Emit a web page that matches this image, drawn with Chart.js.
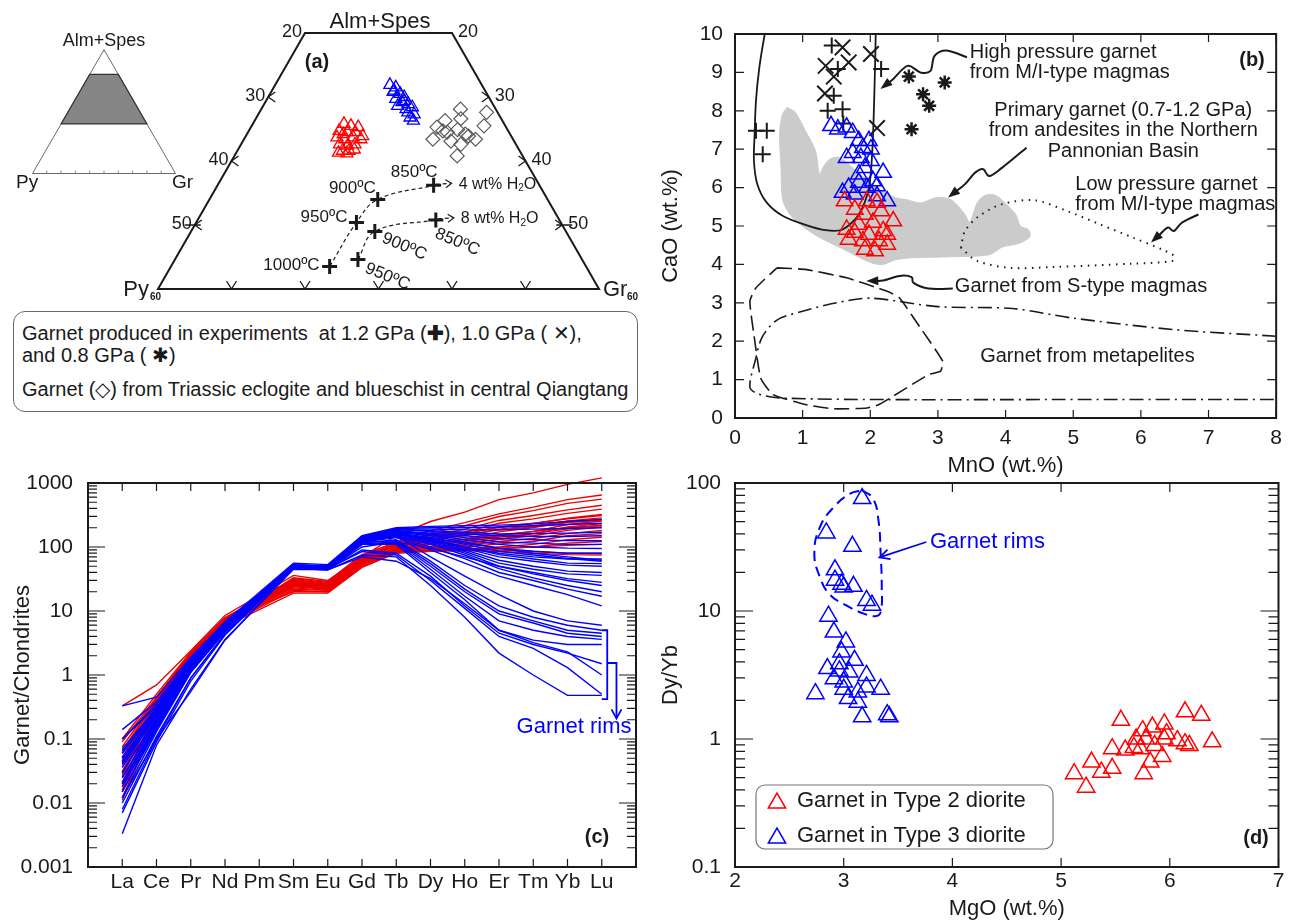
<!DOCTYPE html>
<html>
<head>
<meta charset="utf-8">
<script src="https://cdn.jsdelivr.net/npm/chart.js@4.4.1/dist/chart.umd.min.js"></script>
<style>
html,body{margin:0;padding:0;background:#fff;}
body{position:relative;width:1290px;height:922px;overflow:hidden;font-family:"Liberation Sans",Arial,sans-serif;color:#1a1a1a;}
canvas{position:absolute;}
#legA{position:absolute;left:13px;top:311px;width:625px;height:101px;border:1.4px solid #6a6a6a;border-radius:12px;box-sizing:border-box;}
#legA div{position:absolute;left:8px;font-size:20px;line-height:22px;white-space:nowrap;}
</style>
</head>
<body>
<canvas id="cA" width="640" height="300" style="left:0;top:0"></canvas>
<canvas id="cB" width="650" height="480" style="left:640px;top:0"></canvas>
<canvas id="cC" width="650" height="482" style="left:0;top:440px"></canvas>
<canvas id="cD" width="650" height="482" style="left:640px;top:440px"></canvas>
<div id="legA">
 <div style="top:10px">Garnet produced in experiments&nbsp; at 1.2 GPa (<b>✚</b>), 1.0 GPa ( ✕),</div>
 <div style="top:32px">and 0.8 GPa ( ✱)</div>
 <div style="top:66px">Garnet (◇) from Triassic eclogite and blueschist in central Qiangtang</div>
</div>
<script>
// ================= DATA =================
// Panel (a): ternary compositions [Alm+Spes, Gr] (Py = 100 - Alm - Gr)
const ternType2 = [[65.8,12.4],[65.5,13.5],[65.3,14.6],[64.7,12.3],[64.5,13.5],[64.5,14.6],[63.9,15.9],[63.7,12.5],[63.4,13.7],[63.7,14.7],[63.4,15.9],[62.6,13.4],[62.4,14.6],[62.6,15.5],[61.6,14.3],[61.6,15.2],[61.3,13.9],[61.2,15.1],[61.8,15.8],[64.2,13.1]];
const ternType3 = [[71.9,15.6],[71.5,16.6],[70.8,16.6],[70.5,17.7],[70.0,18.5],[69.7,17.5],[69.2,18.6],[68.9,19.6],[68.6,18.3],[68.1,19.7],[68.4,20.4],[67.3,21.2],[66.8,20.9],[66.3,21.6],[71.0,16.6],[69.4,18.8],[67.6,20.2]];
const ternEclogite = [[68.1,27.1],[66.6,27.9],[67.6,30.9],[66.3,25.9],[65.3,25.3],[64.9,28.3],[63.4,25.7],[64.5,27.1],[64.2,29.7],[65.5,31.6],[63.1,28.3],[62.6,29.9],[63.4,31.5],[60.8,30.3],[63.9,30.3],[64.7,26.4]];
const exp4H2O = [[43.5,21.6],[50.4,21.8],[54.0,22.9],[56.2,29.4]];
const exp8H2O = [[44.6,24.9],[49.0,25.0],[50.8,32.4]];
const exp4Temps = ['1000ºC','950ºC','900ºC','850ºC'];
const exp8Temps = ['950ºC','900ºC','850ºC'];
const ternEdgeLabels = [20,30,40,50];

// Panel (b): [MnO, CaO] wt.%
const bType2 = [[1.62,5.65],[1.77,5.43],[1.95,5.65],[2.16,5.39],[2.10,5.61],[2.34,5.13],[1.65,4.91],[1.83,5.04],[1.92,5.30],[2.04,5.09],[2.19,4.87],[1.77,4.83],[1.98,4.78],[2.25,4.78],[1.89,4.61],[2.13,4.61],[1.68,4.65],[1.92,4.39],[2.07,4.35],[2.25,4.52]];
const bType3 = [[1.42,7.61],[1.52,7.52],[1.65,7.57],[1.74,7.43],[1.83,7.22],[1.98,7.22],[1.74,6.91],[1.89,7.04],[2.01,7.00],[1.86,6.78],[1.65,6.78],[2.01,6.70],[1.92,6.52],[1.83,6.35],[2.19,6.39],[2.04,6.17],[1.83,6.13],[1.68,6.00],[1.95,6.00],[2.10,6.04],[1.59,5.87],[1.77,5.83],[2.25,5.65],[2.10,5.78]];
const bExp12 = [[1.43,9.70],[1.52,9.09],[1.46,8.39],[1.37,8.00],[1.59,8.04],[1.60,7.67],[0.31,7.48],[0.47,7.48],[0.41,6.87],[2.16,9.09]];
const bExp10 = [[1.59,9.65],[1.34,9.17],[1.46,8.89],[1.68,9.26],[2.01,9.48],[1.33,8.45],[2.10,7.55]];
const bExp08 = [[2.57,8.89],[3.10,8.74],[2.78,8.43],[2.87,8.13],[2.61,7.52]];
const fieldHighP = [[0.48,10.3],[0.44,10.0],[0.36,9.13],[0.31,8.26],[0.29,7.39],[0.28,6.70],[0.33,6.09],[0.47,5.61],[0.71,5.26],[1.04,5.03],[1.34,4.89],[1.59,4.91],[1.83,5.30],[1.98,6.00],[2.03,6.96],[2.05,7.83],[2.07,9.13],[2.08,10.0],[2.08,10.3]];
const fieldPannonian = [[0.77,8.09],[0.89,7.96],[1.04,7.48],[1.19,6.96],[1.25,6.35],[1.31,6.55],[1.40,6.74],[1.55,6.78],[1.75,6.50],[2.10,6.00],[2.37,5.74],[2.55,5.68],[2.74,5.60],[2.98,5.74],[3.20,5.68],[3.40,5.30],[3.47,5.10],[3.58,5.60],[3.70,5.80],[3.85,5.80],[3.98,5.62],[4.15,5.30],[4.22,5.00],[4.34,4.90],[4.36,4.72],[4.20,4.55],[3.95,4.45],[3.76,4.25],[3.20,4.20],[2.60,4.17],[2.37,4.12],[2.19,4.00],[2.00,4.05],[1.60,4.40],[1.20,4.75],[0.86,5.20],[0.71,5.65],[0.68,6.50],[0.66,7.40],[0.70,7.90],[0.77,8.09]];
const fieldLowP = [[3.34,4.43],[3.40,4.87],[3.60,5.25],[3.95,5.57],[4.43,5.67],[4.91,5.39],[5.40,5.04],[5.88,4.70],[6.31,4.39],[6.49,4.22],[6.46,4.09],[5.88,4.02],[4.67,3.93],[4.07,3.91],[3.58,4.09],[3.34,4.43]];
const fieldSType = [[0.62,3.91],[1.04,3.87],[1.65,3.65],[2.25,3.30],[2.43,3.13],[2.74,2.35],[3.07,1.48],[3.04,1.22],[2.86,1.13],[2.13,0.35],[1.95,0.26],[1.46,0.24],[1.04,0.35],[0.56,0.61],[0.38,1.04],[0.28,2.17],[0.22,3.04],[0.31,3.39],[0.62,3.91]];
const fieldMetapelite = [[8.0,2.13],[6.5,2.30],[5.0,2.60],[4.1,2.85],[3.0,2.90],[2.0,3.12],[1.5,3.00],[1.0,2.78],[0.62,2.55],[0.40,2.10],[0.30,1.50],[0.22,0.80],[0.35,0.62],[0.70,0.52],[2.2,0.48],[4.7,0.48],[8.0,0.48]];
const mnoTicks = [0,1,2,3,4,5,6,7,8];
const caoTicks = [0,1,2,3,4,5,6,7,8,9,10];

// Panel (c): chondrite-normalised REE
const ree = ['La','Ce','Pr','Nd','Pm','Sm','Eu','Gd','Tb','Dy','Ho','Er','Tm','Yb','Lu'];
const spiderType2 = [
 [0.33,0.7,2.4,8.5,null,36,30,70,150,250,350,550,700,950,1200],
 [0.09,0.45,2.2,7.8,null,32,28,72,120,180,240,330,420,550,650],
 [0.05,0.38,2.0,7.2,null,30,26,68,115,165,215,300,370,480,560],
 [0.03,0.32,1.9,7.0,null,28,25,64,108,150,190,260,310,380,450],
 [0.02,0.28,1.8,6.8,null,27,24,62,104,140,170,235,275,335,390],
 [0.012,0.22,1.6,6.2,null,25,22,58,98,132,160,205,235,275,310],
 [0.065,0.42,2.1,7.5,null,31,27,68,112,142,155,185,205,255,285],
 [0.04,0.35,2.0,7.2,null,29,25,66,102,122,132,155,175,225,255],
 [0.016,0.3,1.8,6.6,null,26,23,60,96,116,122,142,162,205,232],
 [0.1,0.5,2.3,7.8,null,30,27,70,106,112,116,132,150,182,205],
 [0.026,0.31,1.9,7.0,null,27,24,62,96,102,106,122,136,162,182],
 [0.036,0.34,2.0,7.0,null,26,23,60,92,96,100,112,122,150,162],
 [0.052,0.38,2.1,7.3,null,25,22,58,88,91,93,100,110,130,142],
 [0.021,0.28,1.7,6.3,null,22,21,55,85,86,88,95,100,115,122],
 [0.031,0.3,1.8,6.5,null,24,22,57,90,96,95,90,85,80,80],
 [0.046,0.36,1.9,6.8,null,23,21,54,86,90,88,85,80,76,75],
 [0.075,0.44,2.2,7.6,null,20,20,50,80,86,90,95,100,106,110],
 [0.018,0.26,1.6,6.0,null,21,20,52,82,100,112,132,162,192,222],
 [0.028,0.32,1.9,6.9,null,33,29,76,118,152,172,202,232,282,322],
 [0.011,0.2,1.5,5.8,null,19,19,48,80,112,132,172,202,242,262],
 [0.06,0.4,2.1,7.4,null,28,25,65,105,130,150,190,215,250,270],
 [0.015,0.24,1.7,6.4,null,24,22,60,95,110,125,150,175,200,215]
];
const spiderType3 = [
 [0.33,0.45,1.9,6.8,null,56,53,150,200,210,215,220,230,250,270],
 [0.14,0.38,1.8,6.5,null,53,50,145,195,200,200,205,215,225,235],
 [0.1,0.32,1.7,6.3,null,51,48,140,190,190,185,185,190,195,200],
 [0.065,0.28,1.6,6.0,null,50,48,140,185,180,170,160,162,165,170],
 [0.042,0.25,1.5,5.8,null,52,50,145,190,175,160,150,146,146,150],
 [0.03,0.22,1.4,5.6,null,50,48,135,180,165,150,135,130,126,125],
 [0.021,0.18,1.3,5.3,null,48,46,130,175,160,140,120,115,110,110],
 [0.052,0.26,1.6,6.0,null,52,50,140,180,155,130,110,100,96,95],
 [0.015,0.15,1.2,5.0,null,50,48,135,170,150,120,96,86,80,80],
 [0.07,0.3,1.7,6.2,null,50,48,130,165,140,110,86,75,66,60],
 [0.025,0.2,1.35,5.4,null,48,46,128,160,135,100,76,65,56,55],
 [0.036,0.24,1.5,5.7,null,50,48,130,165,130,95,70,60,52,50],
 [0.012,0.13,1.1,4.8,null,49,47,125,155,125,90,62,50,42,40],
 [0.046,0.27,1.6,6.0,null,51,49,130,160,120,85,56,45,38,36],
 [0.008,0.1,0.9,4.4,null,47,45,120,150,115,80,50,38,30,25],
 [0.02,0.17,1.25,5.1,null,48,46,122,150,110,75,46,33,25,20],
 [0.06,0.3,1.7,6.2,null,50,48,125,145,100,66,40,30,22,17],
 [0.03,0.21,1.4,5.5,null,49,47,120,140,90,56,35,25,18,12],
 [0.007,0.09,0.8,4.2,null,47,45,115,130,60,25,12,8,6,5],
 [0.04,0.25,1.5,5.8,null,50,48,118,125,55,22,10,7,5,4.5],
 [0.015,0.14,1.15,4.9,null,48,46,112,120,50,20,9,6.5,4.5,4],
 [0.0033,0.08,0.6,3.6,null,45,44,110,115,45,17,7,5,4,3.6],
 [0.05,0.28,1.6,6.0,null,49,47,110,110,40,15,5,3.5,3,3],
 [0.02,0.16,1.2,5.0,null,47,45,90,80,35,12,4.5,3,2.2,1.5],
 [0.01,0.11,0.9,4.3,null,46,44,75,70,25,8,2.2,1.0,0.48,0.48],
 [0.025,0.19,1.3,5.3,null,48,46,85,75,30,11,4,2.6,1.3,0.5],
 [0.012,0.1,0.55,3.5,null,46,44,70,60,32,13,5,3.2,2.3,1.0],
 [0.06,0.29,1.7,6.1,null,51,49,130,150,70,35,18,10,7,6],
 [0.1,0.35,1.8,6.4,null,53,51,140,170,130,100,80,70,65,65],
 [0.018,0.15,1.1,4.7,null,47,45,100,120,95,70,50,40,32,28],
 [0.044,0.24,1.5,5.8,null,50,48,125,160,140,115,95,80,70,62]
];
const reeYTicks = [0.001,0.01,0.1,1,10,100,1000];
const reeYLabels = ['0.001','0.01','0.1','1','10','100','1000'];

// Panel (d): [MgO wt.%, Dy/Yb]
const dType2 = [[5.12,0.536],[5.23,0.42],[5.28,0.66],[5.37,0.55],[5.47,0.59],[5.47,0.84],[5.55,1.40],[5.59,0.82],[5.67,0.86],[5.69,1.0],[5.73,0.84],[5.76,0.536],[5.78,1.0],[5.82,0.66],[5.84,1.24],[5.86,0.89],[5.93,0.73],[5.95,1.31],[5.97,1.1],[5.95,1.0],[6.07,0.97],[6.14,1.63],[6.14,0.92],[6.18,0.89],[6.29,1.53],[6.39,0.95],[5.75,1.16]];
const dType3 = [[3.17,75.5],[2.84,40.7],[3.08,32],[2.92,21],[2.92,17.4],[2.98,16.2],[3.0,15.4],[3.09,15.6],[3.21,12.1],[3.26,11.1],[2.86,9.1],[2.91,6.85],[3.02,5.73],[2.98,4.79],[3.10,4.12],[2.85,3.55],[2.96,3.88],[3.05,3.34],[2.91,2.96],[3.0,2.79],[3.21,3.14],[3.21,2.55],[3.13,2.33],[3.0,2.45],[3.34,2.45],[2.74,2.26],[3.04,2.07],[3.13,1.94],[3.17,1.49],[3.40,1.55],[3.42,1.49],[2.96,3.4]];
const rimEnvelope = [[3.17,87.6],[3.27,75.5],[3.32,51],[3.34,28],[3.35,15.4],[3.34,9.8],[3.29,9.1],[3.19,9.5],[3.02,11.1],[2.87,13.5],[2.78,18.5],[2.73,28],[2.78,45],[2.91,65],[3.06,82.5],[3.17,87.6]];
const mgoTicks = [2,3,4,5,6,7];
const dyybTicks = [0.1,1,10,100];
const dyybLabels = ['0.1','1','10','100'];

// ================= STYLE / HELPERS =================
const FONT = '"Liberation Sans", Arial, sans-serif';
const INK = '#1a1a1a';
const RED = 'rgb(255,0,0)';
const BLUE = 'rgb(0,0,255)';
Chart.defaults.font.family = FONT;
Chart.defaults.color = INK;
const R3 = Math.sqrt(3) / 2;
const tern = (alm, gr) => ({x: gr + alm / 2, y: alm * R3});
const xy = arr => arr.map(([x, y]) => ({x, y}));

function txt(ctx, s, x, y, size, o = {}) {
  ctx.save();
  ctx.font = `${o.bold ? 'bold ' : ''}${size}px ${FONT}`;
  ctx.fillStyle = o.color || INK;
  ctx.textAlign = o.align || 'left';
  ctx.textBaseline = 'middle';
  if (o.rot) { ctx.translate(x, y); ctx.rotate(o.rot); ctx.fillText(s, 0, 0); }
  else ctx.fillText(s, x, y);
  ctx.restore();
}
function smooth(ctx, p) {
  ctx.moveTo(p[0][0], p[0][1]);
  for (let i = 0; i < p.length - 1; i++) {
    const p0 = p[i - 1] || p[i], p1 = p[i], p2 = p[i + 1], p3 = p[i + 2] || p2;
    ctx.bezierCurveTo(p1[0] + (p2[0] - p0[0]) / 6, p1[1] + (p2[1] - p0[1]) / 6,
      p2[0] - (p3[0] - p1[0]) / 6, p2[1] - (p3[1] - p1[1]) / 6, p2[0], p2[1]);
  }
}
function head(ctx, from, to, len, half, filled) {
  const a = Math.atan2(to[1] - from[1], to[0] - from[0]);
  const bx = to[0] - len * Math.cos(a), by = to[1] - len * Math.sin(a);
  const nx = -Math.sin(a) * half, ny = Math.cos(a) * half;
  ctx.beginPath(); ctx.moveTo(bx + nx, by + ny); ctx.lineTo(to[0], to[1]); ctx.lineTo(bx - nx, by - ny);
  if (filled) { ctx.closePath(); ctx.fill(); } else ctx.stroke();
}
function subText(ctx, parts, x, y) {
  ctx.save(); ctx.fillStyle = INK; ctx.textBaseline = 'middle'; ctx.textAlign = 'left';
  let cx = x;
  parts.forEach(([s, size, dy]) => { ctx.font = `${size}px ${FONT}`; ctx.fillText(s, cx, y + dy); cx += ctx.measureText(s).width; });
  ctx.restore();
}
function logMinors(lo, hi) {
  const out = [];
  for (let d = lo; d < hi * 0.999; d *= 10) for (let k = 2; k <= 9; k++) out.push(k * d);
  return out;
}

// frame + inward ticks
const frameTicks = {
  id: 'frameTicks',
  afterDatasetsDraw(chart, args, o) {
    if (!o || !o.on) return;
    const {ctx, chartArea: a, scales: {x, y}} = chart;
    ctx.save();
    ctx.strokeStyle = INK; ctx.lineWidth = 1.2;
    ctx.beginPath();
    const seg = (x1, y1, x2, y2) => { ctx.moveTo(x1, y1); ctx.lineTo(x2, y2); };
    (o.xTicks || []).forEach(v => { const p = x.getPixelForValue(v); seg(p, a.bottom, p, a.bottom - o.xLen); seg(p, a.top, p, a.top + o.xLen); });
    (o.yTicks || []).forEach(v => { const p = y.getPixelForValue(v); seg(a.left, p, a.left + o.yLen, p); seg(a.right, p, a.right - o.yLen, p); });
    (o.yMinor || []).forEach(v => { const p = y.getPixelForValue(v); seg(a.left, p, a.left + o.yMinorLen, p); seg(a.right, p, a.right - o.yMinorLen, p); });
    ctx.stroke();
    ctx.lineWidth = 2;
    ctx.strokeRect(a.left, a.top, a.right - a.left, a.bottom - a.top);
    ctx.restore();
  }
};
Chart.register(frameTicks);

function axisX(min, max, ticks, labels, pad, height, title, titlePad) {
  return {
    type: 'linear', min, max,
    afterBuildTicks: s => { s.ticks = ticks.map(v => ({value: v})); },
    afterFit: s => { s.height = height; },
    grid: {display: false, drawTicks: false}, border: {display: false},
    ticks: {font: {size: 21}, color: INK, padding: pad, autoSkip: false, maxRotation: 0, minRotation: 0,
      callback: (v, i) => labels[i]},
    title: title ? {display: true, text: title, font: {size: 22}, color: INK, padding: {top: 0, bottom: titlePad}} : {display: false}
  };
}
function axisY(type, min, max, ticks, labels, pad, width, title, titlePad) {
  return {
    type, min, max,
    afterBuildTicks: s => { s.ticks = ticks.map(v => ({value: v})); },
    afterFit: s => { s.width = width; },
    grid: {display: false, drawTicks: false}, border: {display: false},
    ticks: {font: {size: 21}, color: INK, padding: pad, autoSkip: false, callback: (v, i) => labels[i]},
    title: {display: true, text: title, font: {size: 22}, color: INK, padding: {top: titlePad, bottom: 0}}
  };
}
const baseOpts = {responsive: false, animation: false, events: []};
const noLegend = {legend: {display: false}, tooltip: {enabled: false}};
const markers = (data, style, color, r, bw, fill) => ({
  data: xy(data), pointStyle: style, pointRadius: r, pointBorderColor: color, pointBorderWidth: bw,
  pointBackgroundColor: fill || 'rgba(0,0,0,0)', showLine: false, clip: false
});

// ================= PANEL (a) =================
const frameA = [[40, 0], [40, 60], [80, 20], [80, 0]];
const ternPlugin = {
  id: 'ternDraw',
  beforeDatasetsDraw(chart) {
    const {ctx, scales: {x, y}} = chart;
    const P = (alm, gr) => { const t = tern(alm, gr); return [x.getPixelForValue(t.x), y.getPixelForValue(t.y)]; };
    ctx.save();
    const I = (alm, gr) => [32.5 + (gr + alm / 2) * 1.43, 173.5 - alm * R3 * 1.43];
    ctx.strokeStyle = '#6a6a6a'; ctx.lineWidth = 1;
    ctx.beginPath(); [[0, 0], [0, 100], [100, 0]].forEach((c, i) => { const p = I(c[0], c[1]); i ? ctx.lineTo(p[0], p[1]) : ctx.moveTo(p[0], p[1]); });
    ctx.closePath(); ctx.stroke();
    ctx.fillStyle = '#858585'; ctx.strokeStyle = '#333'; ctx.lineWidth = 1.2;
    ctx.beginPath(); frameA.forEach((c, i) => { const p = I(c[0], c[1]); i ? ctx.lineTo(p[0], p[1]) : ctx.moveTo(p[0], p[1]); });
    ctx.closePath(); ctx.fill(); ctx.stroke();
    ctx.strokeStyle = '#888'; ctx.lineWidth = 1; ctx.beginPath();
    for (let g = 10; g < 100; g += 10) { const p = I(0, g); ctx.moveTo(p[0], p[1]); ctx.lineTo(p[0], p[1] - 3); }
    ctx.stroke();
    txt(ctx, 'Alm+Spes', 104, 41, 18, {align: 'center'});
    txt(ctx, 'Py', 16, 183, 19);
    txt(ctx, 'Gr', 172, 183, 19);
    ctx.strokeStyle = INK; ctx.lineWidth = 2;
    ctx.beginPath(); frameA.forEach((c, i) => { const p = P(c[0], c[1]); i ? ctx.lineTo(p[0], p[1]) : ctx.moveTo(p[0], p[1]); });
    ctx.closePath(); ctx.stroke();
    ctx.lineWidth = 1.3; ctx.beginPath();
    [10, 20, 30, 40, 50].forEach(g => { const [px, py] = P(40, g); ctx.moveTo(px - 5, py - 8); ctx.lineTo(px, py); ctx.lineTo(px + 5, py - 8); });
    [30, 40, 50].forEach(v => {
      const [lx, ly] = P(100 - v, 0); ctx.moveTo(lx + 7, ly - 5); ctx.lineTo(lx, ly); ctx.lineTo(lx + 7, ly + 5);
      const [rx, ry] = P(100 - v, v); ctx.moveTo(rx - 7, ry - 5); ctx.lineTo(rx, ry); ctx.lineTo(rx - 7, ry + 5);
      if (v === 50) { ctx.moveTo(lx - 10, ly); ctx.lineTo(lx + 6, ly); ctx.moveTo(rx + 10, ry); ctx.lineTo(rx - 6, ry); }
    });
    ctx.stroke();
    ternEdgeLabels.forEach(v => {
      const [lx, ly] = P(100 - v, 0); txt(ctx, String(v), lx - 3, ly - 1, 18, {align: 'right'});
      const [rx, ry] = P(100 - v, v); txt(ctx, String(v), rx + 6, ry - 1, 18);
    });
    txt(ctx, 'Alm+Spes', 380, 22, 22, {align: 'center'});
    const [pl, plY] = P(40, 0), [gl, glY] = P(40, 60);
    txt(ctx, 'Py', pl - 9, plY + 1, 22, {align: 'right'});
    txt(ctx, '60', pl - 8, plY + 8, 10, {bold: true});
    txt(ctx, 'Gr', gl + 4, glY + 1, 22);
    txt(ctx, '60', gl + 28, glY + 8, 10, {bold: true});
    txt(ctx, '(a)', 317, 62, 20, {bold: true, align: 'center'});
    ctx.restore();
  },
  afterDatasetsDraw(chart) {
    const {ctx, scales: {x, y}} = chart;
    const P = (c) => { const t = tern(c[0], c[1]); return [x.getPixelForValue(t.x), y.getPixelForValue(t.y)]; };
    ctx.save();
    const lab4 = [[-10, -1, 'right', 0], [-9, -5, 'right', 0], [-2, -11, 'right', 0], [4, -13, 'right', 0]];
    exp4H2O.forEach((c, i) => { const p = P(c); const o = lab4[i]; txt(ctx, exp4Temps[i], p[0] + o[0], p[1] + o[1], 17, {align: o[2]}); });
    const lab8 = [[8, 8], [8, 6], [0, 13]];
    exp8H2O.forEach((c, i) => { const p = P(c); const o = lab8[i]; txt(ctx, exp8Temps[i], p[0] + o[0], p[1] + o[1], 17, {rot: 0.4}); });
    ctx.strokeStyle = INK; ctx.lineWidth = 1.2;
    [[exp4H2O, '4 wt% H'], [exp8H2O, '8 wt% H']].forEach(([arr, lbl]) => {
      const p = P(arr[arr.length - 1]);
      ctx.setLineDash([4, 3]); ctx.beginPath(); ctx.moveTo(p[0] + 2, p[1] - 1); ctx.lineTo(p[0] + 17, p[1] - 2); ctx.stroke();
      ctx.setLineDash([]); head(ctx, [p[0], p[1] - 1], [p[0] + 18, p[1] - 2], 6, 4, false);
      subText(ctx, [[lbl, 16, 0], ['2', 10, 4], ['O', 16, 0]], p[0] + 25, p[1] - 1);
    });
    ctx.restore();
  }
};
const tA = arr => arr.map(([a, g]) => tern(a, g));
const dashCurve = (arr) => ({data: tA(arr), showLine: true, pointRadius: 0, borderColor: INK, borderWidth: 1.2, borderDash: [4, 3], tension: 0.4, clip: false});
new Chart(document.getElementById('cA'), {
  type: 'scatter',
  data: {datasets: [
    {data: tA(exp4H2O), pointStyle: 'cross', pointRadius: 7.5, pointBorderColor: INK, pointBorderWidth: 3, showLine: false, clip: false},
    {data: tA(exp8H2O), pointStyle: 'cross', pointRadius: 7.5, pointBorderColor: INK, pointBorderWidth: 3, showLine: false, clip: false},
    {data: tA(ternType2), pointStyle: 'triangle', pointRadius: 7, pointBorderColor: RED, pointBorderWidth: 1.3, pointBackgroundColor: 'rgba(0,0,0,0)', showLine: false, clip: false},
    {data: tA(ternType3), pointStyle: 'triangle', pointRadius: 7, pointBorderColor: BLUE, pointBorderWidth: 1.3, pointBackgroundColor: 'rgba(0,0,0,0)', showLine: false, clip: false},
    {data: tA(ternEclogite), pointStyle: 'rectRot', pointRadius: 7, pointBorderColor: '#5a5a5a', pointBorderWidth: 1.2, pointBackgroundColor: 'rgba(0,0,0,0)', showLine: false, clip: false},
    dashCurve(exp4H2O), dashCurve(exp8H2O)
  ]},
  options: {...baseOpts, layout: {padding: {left: 158, right: 41, top: 33, bottom: 11}},
    scales: {x: {display: false, min: 20, max: 80}, y: {display: false, min: 40 * R3, max: 80 * R3}},
    plugins: {...noLegend}},
  plugins: [ternPlugin]
});

// ================= PANEL (b) =================
const annB = [
  ['High pressure garnet', 3.47, 9.53, 'left'], ['from M/I-type magmas', 3.47, 9.01, 'left'],
  ['Primary garnet (0.7-1.2 GPa)', 5.74, 8.02, 'center'], ['from andesites in the Northern', 5.74, 7.48, 'center'], ['Pannonian Basin', 5.74, 6.93, 'center'],
  ['Low pressure garnet', 5.03, 6.07, 'left'], ['from M/I-type magmas', 5.03, 5.57, 'left'],
  ['Garnet from S-type magmas', 3.25, 3.42, 'left'], ['Garnet from metapelites', 5.21, 1.60, 'center']
];
const arrowsB = [
  [[3.43, 9.39], [3.13, 9.57], [2.95, 9.43], [2.89, 9.04], [2.74, 9.0], [2.55, 9.17], [2.34, 8.83], [2.15, 8.57]],
  [[4.31, 7.04], [3.95, 6.52], [3.76, 6.30], [3.67, 6.48], [3.55, 6.39], [3.40, 6.09], [3.15, 5.74]],
  [[6.85, 5.30], [6.61, 5.09], [6.49, 4.87], [6.40, 4.96], [6.28, 4.78], [6.15, 4.57]],
  [[3.22, 3.37], [2.86, 3.37], [2.64, 3.52], [2.61, 3.67], [2.43, 3.70], [2.19, 3.58], [1.94, 3.57]]
];
const plugB = {
  id: 'annB',
  afterDatasetsDraw(chart) {
    const {ctx, scales: {x, y}} = chart;
    const px = c => [x.getPixelForValue(c[0]), y.getPixelForValue(c[1])];
    ctx.save();
    annB.forEach(([s, a, b, al]) => { const p = px([a, b]); txt(ctx, s, p[0], p[1], 20, {align: al}); });
    ctx.strokeStyle = INK; ctx.fillStyle = INK; ctx.lineWidth = 2;
    arrowsB.forEach(path => {
      const pts = path.map(px);
      const n = pts.length;
      ctx.beginPath(); smooth(ctx, pts.slice(0, -1).concat([[pts[n - 1][0] + (pts[n - 2][0] - pts[n - 1][0]) * 0.4, pts[n - 1][1] + (pts[n - 2][1] - pts[n - 1][1]) * 0.4]])); ctx.stroke();
      head(ctx, pts[n - 2], pts[n - 1], 12, 4.5, true);
    });
    txt(ctx, '(b)', 612, 60, 20, {bold: true, align: 'center'});
    ctx.restore();
  }
};
const fieldLine = (pts, dash, extra = {}) => ({data: xy(pts), showLine: true, pointRadius: 0, borderColor: INK, borderWidth: 1.6, borderDash: dash, tension: 0.35, ...extra});
new Chart(document.getElementById('cB'), {
  type: 'scatter',
  data: {datasets: [
    markers(bType2, 'triangle', RED, 9.5, 1.5),
    markers(bType3, 'triangle', BLUE, 9.5, 1.5),
    markers(bExp12, 'cross', INK, 8, 2),
    markers(bExp10, 'crossRot', INK, 11, 2),
    markers(bExp08, 'star', INK, 7, 2.5),
    fieldLine(fieldHighP, [], {borderWidth: 1.8, tension: 0.3}),
    fieldLine(fieldLowP, [1.5, 5.5], {borderWidth: 2, tension: 0.3}),
    fieldLine(fieldSType, [15, 6], {tension: 0.15}),
    fieldLine(fieldMetapelite, [14, 5, 2, 5], {tension: 0.3}),
    {data: xy(fieldPannonian), showLine: true, pointRadius: 0, borderColor: '#cbcbcb', borderWidth: 1, backgroundColor: '#cbcbcb', fill: 'shape', tension: 0.3}
  ]},
  options: {...baseOpts, layout: {padding: {left: 0, right: 8, top: 34, bottom: 0}},
    scales: {
      x: axisX(0, 8, mnoTicks, mnoTicks.map(String), 8, 62, 'MnO (wt.%)', 1),
      y: axisY('linear', 0, 10, caoTicks, caoTicks.map(String), 12, 95, 'CaO (wt.%)', 18)
    },
    plugins: {...noLegend, frameTicks: {on: true, xTicks: mnoTicks, xLen: 8, yTicks: caoTicks, yLen: 9}}},
  plugins: [plugB]
});

// ================= PANEL (c) =================
const plugC = {
  id: 'annC',
  afterDatasetsDraw(chart) {
    const {ctx, scales: {x, y}} = chart;
    const px = c => [x.getPixelForValue(c[0]), y.getPixelForValue(c[1])];
    ctx.save();
    ctx.strokeStyle = BLUE; ctx.lineWidth = 1.8;
    ctx.beginPath(); [[14.0, 5], [14.16, 5], [14.16, 0.42], [14.0, 0.42]].map(px).forEach((p, i) => i ? ctx.lineTo(p[0], p[1]) : ctx.moveTo(p[0], p[1])); ctx.stroke();
    const b2 = [[14.16, 1.54], [14.43, 1.54], [14.43, 0.21]].map(px);
    ctx.beginPath(); b2.forEach((p, i) => i ? ctx.lineTo(p[0], p[1]) : ctx.moveTo(p[0], p[1])); ctx.stroke();
    head(ctx, b2[1], b2[2], 9, 5, false);
    txt(ctx, 'Garnet rims', 574, 287, 22, {color: BLUE, align: 'center'});
    txt(ctx, '(c)', 597, 397, 20, {bold: true, align: 'center'});
    ctx.restore();
  }
};
const spiderSets = (rows, color) => rows.map(r => ({
  data: r.map((v, i) => ({x: i, y: v})).filter(p => p.y !== null),
  showLine: true, pointRadius: 0, borderColor: color, borderWidth: 1.4, tension: 0, clip: false
}));
new Chart(document.getElementById('cC'), {
  type: 'scatter',
  data: {datasets: [...spiderSets(spiderType3, BLUE), ...spiderSets(spiderType2, 'rgb(235,0,0)')]},
  options: {...baseOpts, layout: {padding: {left: 0, right: 14, top: 43, bottom: 0}},
    scales: {
      x: axisX(-1, 15, ree.map((_, i) => i), ree, 3, 55, null, 0),
      y: axisY('logarithmic', 0.001, 1000, reeYTicks, reeYLabels, 15, 88, 'Garnet/Chondrites', 10)
    },
    plugins: {...noLegend, frameTicks: {on: true, xTicks: ree.map((_, i) => i), xLen: 8, yTicks: reeYTicks, yLen: 17, yMinor: logMinors(0.001, 1000), yMinorLen: 9}}},
  plugins: [plugC]
});

// ================= PANEL (d) =================
const plugD = {
  id: 'annD',
  afterDatasetsDraw(chart) {
    const {ctx, scales: {x, y}} = chart;
    const px = c => [x.getPixelForValue(c[0]), y.getPixelForValue(c[1])];
    ctx.save();
    ctx.strokeStyle = BLUE; ctx.lineWidth = 1.8;
    const a0 = px([3.76, 34.6]), a1 = px([3.33, 26.2]);
    ctx.beginPath(); ctx.moveTo(a0[0], a0[1]); ctx.lineTo(a1[0], a1[1]); ctx.stroke();
    head(ctx, a0, a1, 10, 5, false);
    txt(ctx, 'Garnet rims', 290, 102, 22, {color: BLUE});
    ctx.strokeStyle = '#777'; ctx.lineWidth = 1.2;
    ctx.beginPath(); ctx.roundRect(116, 345, 297, 64, 9); ctx.stroke();
    [[RED, 'Garnet in Type 2 diorite', 361], [BLUE, 'Garnet in Type 3 diorite', 396]].forEach(([c, s, yy]) => {
      ctx.save(); ctx.strokeStyle = c; ctx.fillStyle = 'rgba(0,0,0,0)'; ctx.lineWidth = 1.5;
      Chart.helpers.drawPoint(ctx, {pointStyle: 'triangle', radius: 10, borderWidth: 1.5, rotation: 0}, 137, yy + 2);
      ctx.restore();
      txt(ctx, s, 157, yy, 22);
    });
    txt(ctx, '(d)', 616, 398, 20, {bold: true, align: 'center'});
    ctx.restore();
  }
};
new Chart(document.getElementById('cD'), {
  type: 'scatter',
  data: {datasets: [
    markers(dType2, 'triangle', RED, 10, 1.5),
    markers(dType3, 'triangle', BLUE, 10, 1.5),
    {data: xy(rimEnvelope), showLine: true, pointRadius: 0, borderColor: BLUE, borderWidth: 2, borderDash: [10, 6], tension: 0.45}
  ]},
  options: {...baseOpts, layout: {padding: {left: 0, right: 6, top: 43, bottom: 0}},
    scales: {
      x: axisX(2, 7, mgoTicks, mgoTicks.map(String), 2, 55, 'MgO (wt.%)', 0),
      y: axisY('logarithmic', 0.1, 100, dyybTicks, dyybLabels, 14, 95, 'Dy/Yb', 18)
    },
    plugins: {...noLegend, frameTicks: {on: true, xTicks: mgoTicks, xLen: 9, yTicks: dyybTicks, yLen: 18, yMinor: logMinors(0.1, 100), yMinorLen: 10}}},
  plugins: [plugD]
});
</script>
</body>
</html>
